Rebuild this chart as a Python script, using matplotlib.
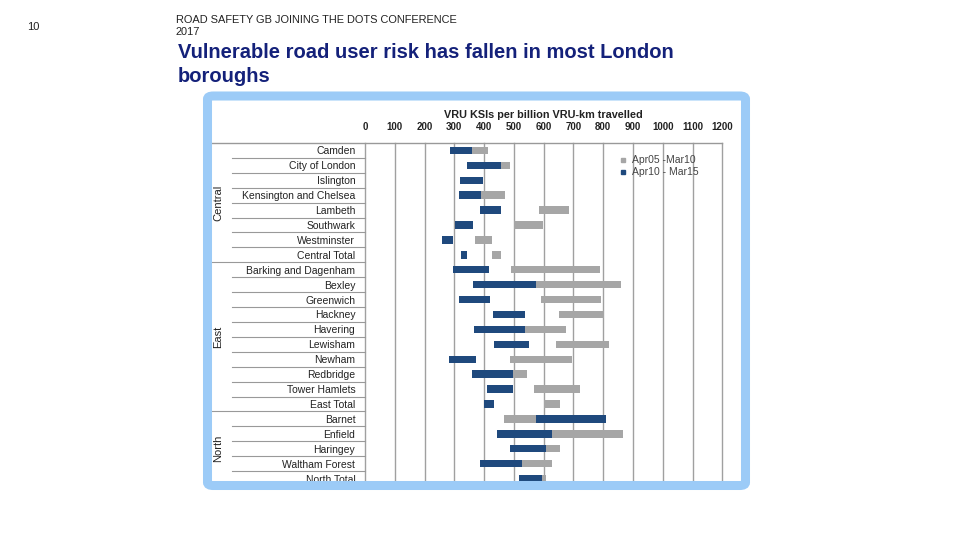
import matplotlib
matplotlib.use('Agg')
import matplotlib.pyplot as plt
from matplotlib.patches import FancyBboxPatch
from matplotlib.lines import Line2D
import matplotlib.transforms as mtransforms

plt.rcParams['font.family'] = ['Liberation Sans', 'DejaVu Sans']

# data ----------------------------------------------------------
boroughs = ['Camden', 'City of London', 'Islington', 'Kensington and Chelsea',
            'Lambeth', 'Southwark', 'Westminster', 'Central Total',
            'Barking and Dagenham', 'Bexley', 'Greenwich', 'Hackney', 'Havering',
            'Lewisham', 'Newham', 'Redbridge', 'Tower Hamlets', 'East Total',
            'Barnet', 'Enfield', 'Haringey', 'Waltham Forest', 'North Total']
groups = ['Central', 'East', 'North']
group_sizes = [8, 10, 5]

# Apr05 - Mar10 range (low, high)
old_low = [360, 457, 390, 390, 583, 501, 371, 427,
           490, 575, 591, 653, 538, 642, 487, 496, 567, 600,
           468, 628, 608, 528, 593]
old_high = [414, 487, 397, 471, 685, 599, 427, 456,
            789, 860, 793, 804, 675, 818, 695, 543, 722, 655,
            573, 867, 655, 628, 608]
# Apr10 - Mar15 range (low, high)
new_low = [286, 342, 319, 316, 386, 301, 257, 323,
           294, 364, 316, 431, 367, 434, 282, 358, 409, 400,
           573, 443, 488, 386, 516]
new_high = [360, 457, 397, 390, 457, 362, 295, 344,
            415, 575, 419, 537, 538, 551, 372, 496, 496, 433,
            809, 628, 608, 528, 593]

old_label = 'Apr05 -Mar10'
new_label = 'Apr10 - Mar15'
x_ticks = list(range(0, 1300, 100))

grey = '#a6a6a6'
navy = '#1f497d'

# figure --------------------------------------------------------
W, H = 960, 540
fig = plt.figure(figsize=(9.6, 5.4), dpi=100)

def fx(x):
    return x / W

def fy(y):
    return 1 - y / H

# header texts
fig.text(fx(33), fy(27), '10', fontsize=8, va='center', ha='center', color='#222222')
fig.text(fx(176), fy(20), 'ROAD SAFETY GB JOINING THE DOTS CONFERENCE', fontsize=7.9,
         va='center', color='#222222')
fig.text(fx(176), fy(32), '2017', fontsize=7.9, va='center', color='#222222')
fig.text(fx(178), fy(53), 'Vulnerable road user risk has fallen in most London',
         fontsize=14.5, fontweight='bold', va='center', color='#14217a')
fig.text(fx(178), fy(77), 'boroughs', fontsize=14.5, fontweight='bold',
         va='center', color='#14217a')

# chart axes
left, right, top, bottom = 365, 722.3, 143, 486
ax = fig.add_axes([fx(left), fy(bottom), fx(right - left), (bottom - top) / H])
n = len(boroughs)
ys = list(range(n))
ax.barh(ys, [h - l for l, h in zip(old_low, old_high)], left=old_low, height=0.5,
        color=grey, label=old_label, zorder=3)
ax.barh(ys, [h - l for l, h in zip(new_low, new_high)], left=new_low, height=0.5,
        color=navy, label=new_label, zorder=4)

ax.set_xlim(0, 1200)
ax.set_ylim(n - 0.5, -0.5)
ax.set_xticks(x_ticks)
ax.xaxis.tick_top()
ax.tick_params(axis='x', length=0, pad=8, labelsize=7, labelcolor='#222222')
for lab in ax.get_xticklabels():
    lab.set_fontweight('bold')
ax.set_yticks(ys, labels=boroughs)
ax.tick_params(axis='y', length=0, pad=7, labelsize=7.5, labelcolor='#222222')
for s in ax.spines.values():
    s.set_visible(False)
for t in x_ticks:
    ax.axvline(t, color='#a0a0a0', lw=1, zorder=1, clip_on=False)

ax.set_title('VRU KSIs per billion VRU-km travelled', fontsize=7.8, fontweight='bold',
             color='#222222', pad=18)

# row separators
trans = mtransforms.blended_transform_factory(ax.transAxes, ax.transData)
x_row = -(left - 232) / (right - left)
x_grp = -(left - 212) / (right - left)
ax.plot([x_grp, 1], [-0.5, -0.5], transform=trans, color='#999999', lw=1, clip_on=False)
bounds = [0]
for g in group_sizes:
    bounds.append(bounds[-1] + g)
for i in range(1, n):
    xs = x_grp if i in bounds else x_row
    ax.plot([xs, 0], [i - 0.5, i - 0.5], transform=trans, color='#999999',
            lw=0.8, clip_on=False)

# group labels
x_gl = -(left - 218) / (right - left)
for g, a, b in zip(groups, bounds[:-1], bounds[1:]):
    ax.text(x_gl, (a + b - 1) / 2, g, transform=trans, rotation=90, ha='center',
            va='center', fontsize=8, color='#222222')

handles = [Line2D([], [], marker='s', ls='', color=grey, markersize=3),
           Line2D([], [], marker='s', ls='', color=navy, markersize=3)]
ax.legend(handles, [old_label, new_label], loc='upper left',
          bbox_to_anchor=((615 - left) / (right - left), 1 - (150 - top) / (bottom - top)),
          frameon=False, fontsize=7.5, handlelength=0.6, handletextpad=0.5,
          labelspacing=0.2, borderpad=0, labelcolor='#444444')

# light blue frame
frame = FancyBboxPatch((fx(207.5), fy(485.5)), fx(745.5 - 207.5), (485.5 - 96) / H,
                       boxstyle='round,pad=0,rounding_size=0.006',
                       transform=fig.transFigure, facecolor='none',
                       edgecolor='#9ccbf7', lw=6.5, zorder=10)
fig.patches.append(frame)

fig.savefig('out.png', dpi=100)
